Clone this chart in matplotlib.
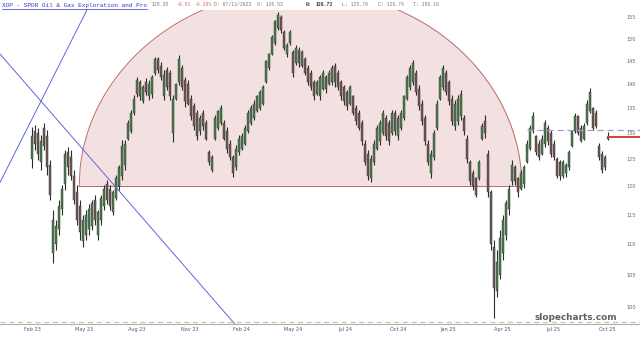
import numpy as np
import matplotlib
matplotlib.use('Agg')
import matplotlib.pyplot as plt
from matplotlib.lines import Line2D
from matplotlib.ticker import NullLocator, NullFormatter, FixedLocator

# ----------------------------------------------------------------------------- data (XOP)

highs = [131.3, 131.7, 131.1, 129.7, 132.1, 130.7, 124.9, 115.9, 114.1, 117.6,
         120.3, 126.8, 127.4, 126.8, 123.0, 120.3, 117.6, 114.9, 115.9, 116.8,
         117.6, 118.5, 115.9, 118.5, 120.3, 121.2, 120.3, 119.4, 122.1, 124.0,
         128.7, 128.7, 132.7, 134.7, 137.8, 141.6, 140.9, 139.8, 141.3, 140.9,
         142.0, 145.9, 145.9, 144.8, 143.0, 143.7, 143.0, 137.8, 140.3, 146.3,
         144.1, 141.6, 140.9, 137.8, 136.1, 134.7, 133.7, 134.7, 132.7, 126.8,
         125.9, 133.7, 134.7, 135.7, 132.7, 131.3, 128.7, 125.9, 127.8, 129.7,
         130.1, 131.7, 134.7, 135.7, 136.7, 137.8, 138.8, 139.8, 145.2, 146.8,
         150.8, 154.3, 156.2, 155.5, 152.0, 149.0, 152.0, 147.4, 148.6, 148.1,
         147.4, 145.9, 144.1, 143.0, 140.9, 140.9, 142.0, 143.0, 142.0, 143.0,
         144.1, 144.6, 143.0, 140.9, 139.8, 138.8, 139.8, 137.8, 135.7, 134.7,
         132.7, 128.7, 126.8, 125.9, 128.7, 131.7, 132.7, 134.7, 133.7, 132.7,
         134.7, 134.7, 133.7, 134.7, 137.8, 142.0, 144.1, 145.2, 143.0, 139.8,
         136.7, 133.7, 128.7, 126.8, 130.7, 136.7, 142.0, 144.1, 143.0, 140.9,
         137.8, 136.7, 137.8, 138.8, 133.7, 129.7, 124.9, 123.0, 121.8, 124.9,
         132.1, 133.7, 126.8, 119.4, 110.7, 109.0, 112.4, 115.0, 117.6, 120.3,
         124.9, 124.0, 121.8, 123.0, 124.0, 128.7, 131.7, 134.3, 129.7, 128.7,
         129.7, 132.7, 131.7, 130.7, 128.7, 125.5, 124.9, 124.9, 124.3, 126.8,
         130.7, 134.1, 133.7, 131.7, 132.1, 136.7, 139.2, 135.3, 134.7, 128.1,
         126.6, 125.9, 130.3]

lows = [123.4, 126.8, 124.9, 123.0, 126.8, 122.1, 117.6, 106.9, 109.0, 111.6,
        115.0, 119.4, 122.1, 121.2, 116.8, 113.3, 110.7, 109.6, 110.7, 111.6,
        112.4, 113.3, 110.7, 113.3, 115.9, 116.8, 115.9, 115.0, 117.6, 119.4,
        121.2, 123.0, 128.7, 130.1, 133.7, 137.4, 136.7, 136.1, 137.8, 136.7,
        137.2, 142.0, 142.4, 140.9, 136.7, 138.8, 136.7, 128.3, 136.7, 139.8,
        138.8, 135.3, 135.7, 132.7, 130.7, 128.7, 129.7, 130.7, 128.7, 124.0,
        122.7, 128.7, 130.7, 131.7, 128.7, 126.2, 124.9, 121.8, 123.0, 125.9,
        126.8, 127.8, 130.1, 131.7, 132.7, 134.3, 134.7, 135.7, 140.3, 143.0,
        146.3, 148.6, 152.0, 151.3, 147.4, 145.9, 148.6, 141.6, 144.1, 143.7,
        143.7, 142.0, 139.8, 138.8, 136.7, 137.8, 136.7, 138.8, 138.2, 139.8,
        139.8, 139.4, 138.8, 136.7, 135.7, 134.7, 135.7, 133.7, 131.7, 130.7,
        127.8, 124.0, 121.2, 120.8, 124.0, 126.8, 127.8, 129.7, 128.7, 127.8,
        129.7, 129.7, 128.7, 130.7, 132.7, 136.7, 138.8, 139.8, 137.8, 134.7,
        131.7, 127.8, 124.0, 121.6, 124.9, 130.7, 136.7, 138.8, 137.8, 135.7,
        131.7, 130.7, 131.7, 132.7, 129.7, 124.3, 120.3, 119.4, 118.1, 121.2,
        128.7, 129.1, 118.1, 109.0, 98.4, 101.5, 104.4, 107.4, 110.7, 115.0,
        120.3, 120.3, 118.1, 119.4, 119.8, 124.3, 126.8, 130.1, 125.9, 124.9,
        125.9, 127.4, 127.8, 125.5, 124.9, 121.6, 121.2, 121.6, 121.8, 123.0,
        127.4, 130.1, 129.7, 128.3, 128.7, 131.7, 134.1, 130.7, 131.1, 124.9,
        122.5, 123.0, 128.7]

opens = [125.0, 130.5, 130.0, 124.5, 131.0, 129.5, 124.0, 108.5, 110.0, 112.5,
         116.0, 120.5, 126.5, 125.5, 122.0, 119.0, 116.5, 110.5, 111.5, 112.5,
         113.0, 117.5, 111.5, 114.0, 116.5, 120.5, 119.5, 115.5, 118.0, 120.0,
         122.0, 124.0, 129.0, 130.5, 134.0, 138.0, 140.5, 136.5, 140.5, 137.5,
         138.0, 142.5, 145.5, 144.0, 137.5, 143.0, 142.5, 130.0, 137.0, 140.5,
         143.5, 141.0, 140.0, 137.0, 135.5, 134.0, 130.5, 134.0, 132.0, 126.5,
         123.0, 129.0, 131.0, 132.0, 132.0, 130.5, 128.0, 125.5, 123.5, 126.5,
         127.0, 128.0, 130.5, 132.0, 133.0, 134.5, 135.0, 136.0, 140.5, 143.5,
         146.5, 149.0, 152.5, 155.0, 151.5, 146.5, 149.0, 147.0, 144.5, 147.5,
         144.0, 145.5, 143.5, 142.5, 140.5, 138.0, 137.5, 139.0, 141.5, 140.0,
         140.5, 144.0, 142.5, 140.5, 139.5, 138.5, 136.0, 137.5, 135.0, 134.0,
         132.0, 128.0, 126.0, 121.5, 124.5, 127.0, 128.5, 130.0, 133.0, 132.0,
         130.0, 134.0, 129.5, 131.0, 133.0, 137.0, 139.5, 140.5, 142.5, 139.0,
         136.0, 133.0, 128.0, 122.5, 125.5, 131.0, 137.0, 139.5, 142.5, 140.5,
         137.0, 131.5, 132.5, 133.5, 133.0, 129.0, 124.5, 122.5, 121.5, 121.5,
         129.0, 132.5, 126.0, 119.0, 109.5, 102.5, 105.0, 108.5, 111.5, 116.0,
         121.0, 123.5, 121.5, 119.5, 120.5, 124.5, 127.0, 130.5, 129.5, 128.0,
         126.0, 128.0, 131.0, 130.0, 128.0, 125.0, 124.5, 122.0, 122.5, 123.5,
         127.5, 130.5, 133.5, 131.0, 129.0, 132.0, 134.5, 135.0, 134.0, 127.5,
         126.0, 123.5, 129.0]

closes = [129.5, 128.0, 126.0, 128.5, 127.5, 123.5, 118.5, 114.0, 113.0, 116.5,
          119.5, 126.0, 123.5, 122.0, 117.5, 114.0, 112.0, 114.0, 115.0, 116.0,
          117.0, 114.0, 115.5, 118.0, 119.5, 117.5, 116.5, 119.0, 121.5, 123.5,
          127.5, 128.0, 132.0, 134.0, 137.0, 141.0, 137.5, 139.5, 138.5, 140.0,
          141.5, 145.5, 143.0, 141.5, 142.0, 139.5, 137.5, 137.0, 140.0, 145.5,
          139.5, 136.5, 136.0, 133.5, 131.5, 129.5, 133.0, 131.5, 129.0, 124.5,
          125.5, 133.0, 134.5, 135.0, 129.0, 127.0, 125.5, 122.5, 127.0, 129.0,
          129.5, 131.0, 134.0, 135.0, 136.0, 137.5, 138.5, 139.5, 145.0, 146.5,
          150.5, 154.0, 155.5, 152.0, 148.0, 148.5, 151.5, 142.5, 148.0, 144.5,
          147.0, 142.5, 140.5, 139.5, 137.5, 140.5, 141.5, 142.5, 139.0, 142.5,
          143.5, 140.5, 139.5, 137.5, 136.5, 135.5, 139.5, 134.0, 132.5, 131.0,
          128.5, 124.5, 122.0, 125.0, 128.0, 131.0, 132.0, 134.0, 129.5, 128.5,
          134.0, 130.5, 133.0, 134.0, 137.5, 141.5, 143.5, 144.5, 138.5, 135.5,
          132.5, 128.5, 124.5, 126.0, 130.0, 136.0, 141.5, 143.5, 138.5, 136.5,
          132.5, 136.0, 137.0, 138.0, 130.5, 125.0, 121.0, 120.0, 118.5, 124.5,
          131.5, 130.0, 119.0, 110.0, 103.0, 107.0, 111.0, 114.0, 117.0, 119.5,
          124.0, 121.0, 119.0, 122.5, 123.5, 128.0, 131.0, 133.5, 126.5, 125.5,
          129.0, 132.0, 128.5, 126.0, 125.5, 122.0, 122.0, 124.5, 124.0, 126.5,
          130.5, 133.5, 130.0, 128.5, 131.5, 136.0, 138.5, 131.0, 131.5, 125.5,
          123.0, 125.5, 129.35]

x_labels = ['Feb 23', 'May 23', 'Aug 23', 'Nov 23', 'Feb 24', 'May 24',
            'Jul 24', 'Oct 24', 'Jan 25', 'Apr 25', 'Jul 25', 'Oct 25']
x_label_bars = [0, 17.3, 35, 52.7, 69.7, 87, 104.3, 122, 138.7, 156.7, 173.7, 191.7]
y_ticks = [100, 105, 110, 115, 120, 125, 130, 135, 140, 145, 150, 155]

last_price = 129.35
prev_level = 130.7
floor_level = 97.8

# drawings on the chart (bar index, price)
arc_left, arc_right = 15.7, 163.3
arc_base, arc_top = 120.0, 161.5
trend_a = [(-10.7, 146.6), (67.0, 97.8)]
trend_b = [(-10.7, 120.7), (18.3, 156.65)]

header = [('129.35', 152, '#777777', 'normal'),
          ('-0.51', 176, '#e06666', 'normal'),
          ('-0.39%', 194, '#e06666', 'normal'),
          ('D: 07/13/2023', 214, '#777777', 'normal'),
          ('O: 126.53', 257, '#777777', 'normal'),
          ('H:', 306, '#333333', 'bold'),
          ('128.73', 316, '#333333', 'bold'),
          ('L: 125.79', 342, '#777777', 'normal'),
          ('C: 126.74', 378, '#777777', 'normal'),
          ('T: 156.10', 413, '#777777', 'normal')]

# -----------------------------------------------------------------------------

W, H = 640, 339
fig = plt.figure(figsize=(W / 100, H / 100), dpi=100)
ax = fig.add_axes([0, 1 - 324 / H, 1, (324 - 10) / H])
ax.set_yscale('log')
ax.set_xlim(-10.67, 202.67)
ax.set_ylim(97.5, 156.65)

# half-disc
t = np.linspace(-1, 1, 400)
xs = (arc_left + arc_right) / 2 + (arc_right - arc_left) / 2 * t
ys = arc_base * (arc_top / arc_base) ** np.sqrt(1 - t ** 2)
ax.fill_between(xs, arc_base, ys, color='#f3e0e0', lw=0, zorder=1)
ax.plot(xs, ys, color='#b86a6a', lw=0.7, zorder=2)
ax.plot([arc_left, arc_right], [arc_base, arc_base], color='#b86a6a', lw=0.7, zorder=2)

# candles
idx = np.arange(len(closes))
o = np.array(opens)
c = np.array(closes)
up = c >= o
ax.vlines(idx, lows, highs, color='#2c2c2c', lw=0.8, zorder=3)
ax.bar(idx[up], c[up] - o[up], bottom=o[up], width=0.8, color='#4d7a4f',
       edgecolor='#2f3f2f', lw=0.3, zorder=4)
ax.bar(idx[~up], o[~up] - c[~up], bottom=c[~up], width=0.8, color='#6a5a55',
       edgecolor='#3a3030', lw=0.3, zorder=4)

# trendlines
ax.axline(trend_a[0], trend_a[1], color='#6464dc', lw=0.7, zorder=5)
ax.axline(trend_b[0], trend_b[1], color='#6464dc', lw=0.7, zorder=5)

# level lines
ax.plot([165, 202.67], [prev_level, prev_level], color='#9aa0c8', lw=0.9,
        ls=(0, (5, 3)), zorder=5)
ax.plot([idx[-1], 202.67], [last_price, last_price], color='#e03a3a', lw=1.4, zorder=6)
ax.axhline(floor_level, color='#a8d8a0', lw=0.9, ls=(0, (4, 3)), zorder=5)

# axes look
for s in ['left', 'top', 'right']:
    ax.spines[s].set_visible(False)
ax.spines['bottom'].set_color('#b0b0b0')
ax.spines['bottom'].set_linewidth(0.8)

ax.yaxis.set_ticks_position('right')
ax.yaxis.set_major_locator(FixedLocator(y_ticks))
ax.yaxis.set_minor_locator(NullLocator())
ax.yaxis.set_minor_formatter(NullFormatter())
ax.set_yticklabels([str(v) for v in y_ticks])
ax.tick_params(axis='y', length=0, pad=-9.5, labelsize=3.6, labelcolor='#666666')

ax.set_xticks(x_label_bars)
ax.set_xticklabels(x_labels)
ax.tick_params(axis='x', length=0, pad=2.5, labelsize=3.6, labelcolor='#555577')

# header
fig.text(2 / W, 1 - 5 / H, 'XOP - SPDR Oil & Gas Exploration and Pro', family='Liberation Mono',
         fontsize=4.35, color='#3434c4', va='center', ha='left')
fig.add_artist(Line2D([2 / W, 147 / W], [1 - 8.5 / H, 1 - 8.5 / H], color='#3434c4', lw=0.5))
for txt, xp, col, wt in header:
    fig.text(xp / W, 1 - 5 / H, txt, family='Liberation Mono', fontsize=3.4,
             color=col, weight=wt, va='center', ha='left')

fig.text(576 / W, 1 - 317 / H, 'slopecharts.com', fontsize=6.4, weight='bold',
         color='#606060', ha='center', va='center')

fig.savefig('out.png', dpi=100, facecolor='white')
